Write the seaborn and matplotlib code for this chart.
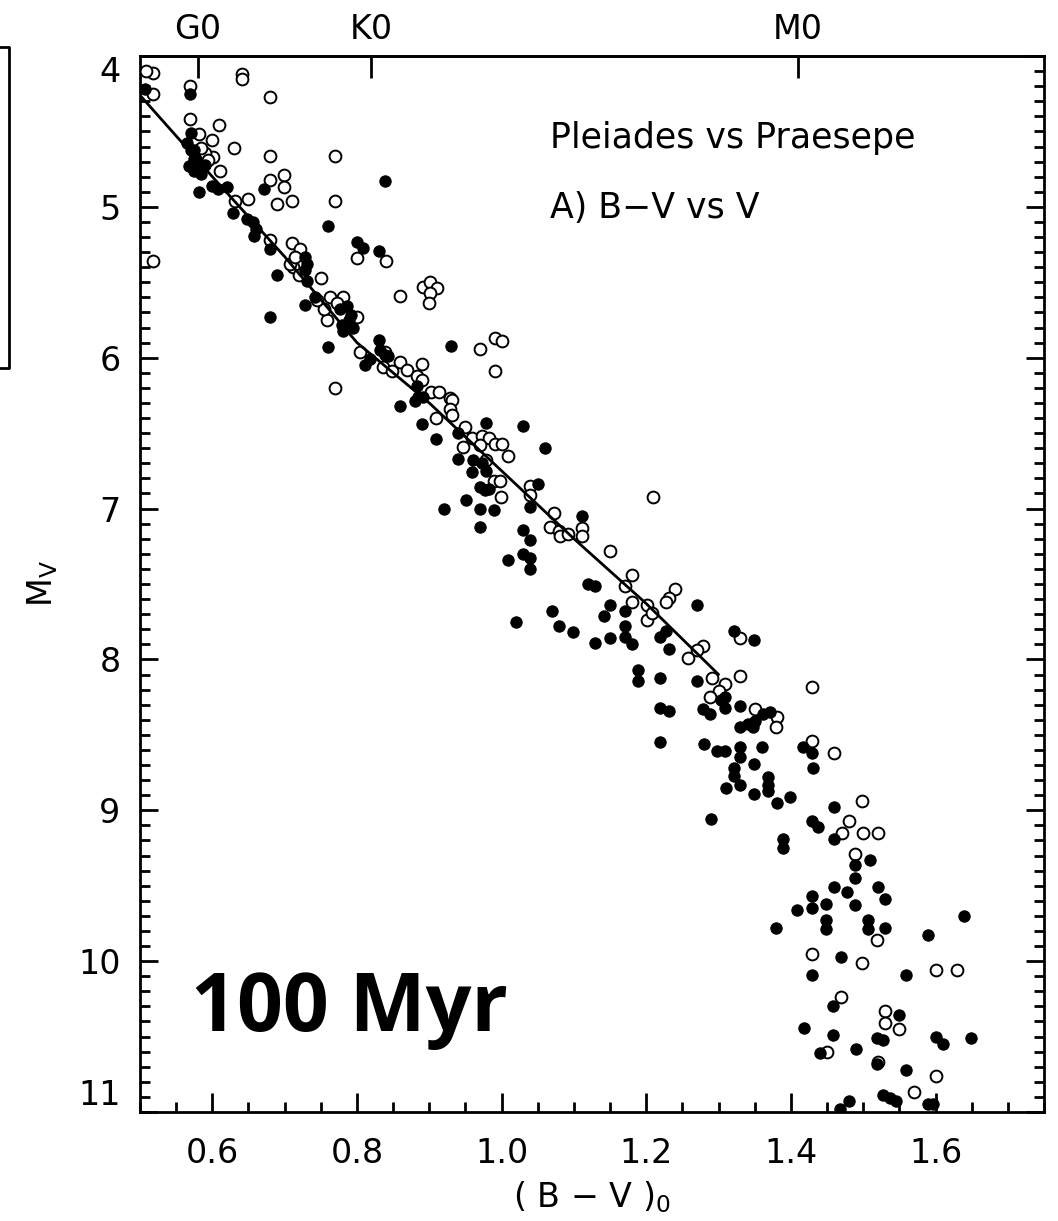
import matplotlib
matplotlib.use("Agg")
import matplotlib.pyplot as plt
from matplotlib.ticker import MultipleLocator, FormatStrFormatter, NullLocator
from matplotlib.lines import Line2D
import pandas as pd
import seaborn as sns

# Pleiades members (open symbols): (B-V)0 and M_V
pleiades_bv = [
    0.518, 0.508, 0.518, 0.569, 0.641, 0.641, 0.680, 0.569, 0.609, 0.630,
    0.600, 0.582, 0.601, 0.590, 0.611, 0.680, 0.770, 0.680, 0.699, 0.699,
    0.689, 0.710, 0.770, 0.649, 0.631, 0.518, 0.680, 0.710, 0.721, 0.800,
    0.840, 0.750, 0.712, 0.860, 0.892, 0.901, 0.910, 0.901, 0.900, 0.770,
    0.970, 0.991, 1.000, 0.991, 0.890, 0.758, 0.800, 0.763, 0.781, 0.772,
    0.860, 0.869, 0.883, 0.890, 0.903, 0.913, 0.929, 0.839, 0.804, 0.836,
    0.848, 0.931, 0.929, 0.931, 0.909, 0.950, 0.959, 0.973, 0.982, 0.991,
    1.000, 1.009, 0.947, 0.970, 0.979, 0.989, 0.998, 0.999, 1.039, 1.039,
    1.072, 1.067, 1.079, 1.081, 1.092, 1.111, 1.111, 1.150, 1.210, 1.180,
    1.171, 1.180, 1.201, 1.201, 1.240, 1.231, 1.228, 1.279, 1.270, 1.258,
    1.291, 1.330, 1.330, 1.309, 1.300, 1.288, 1.208, 1.429, 1.351, 1.381,
    1.380, 1.429, 1.459, 1.499, 1.480, 1.470, 1.500, 1.520, 1.489, 1.519,
    1.429, 1.499, 1.600, 1.630, 1.469, 1.530, 1.530, 1.549, 1.450, 1.520,
    1.600, 1.570, 0.585, 0.594, 0.707, 0.715, 0.720, 0.755, 0.745,
]
pleiades_mv = [
    4.11, 4.10, 4.25, 4.20, 4.12, 4.15, 4.27, 4.42, 4.46, 4.61,
    4.56, 4.52, 4.67, 4.64, 4.76, 4.66, 4.66, 4.82, 4.79, 4.87,
    4.98, 4.96, 4.96, 4.95, 4.96, 5.36, 5.22, 5.24, 5.28, 5.34,
    5.36, 5.47, 5.40, 5.59, 5.53, 5.50, 5.54, 5.57, 5.64, 6.20,
    5.94, 5.87, 5.89, 6.09, 6.04, 5.75, 5.73, 5.60, 5.60, 5.64,
    6.03, 6.08, 6.12, 6.15, 6.23, 6.23, 6.27, 5.96, 5.96, 6.06,
    6.09, 6.28, 6.34, 6.38, 6.40, 6.46, 6.53, 6.52, 6.53, 6.57,
    6.57, 6.65, 6.59, 6.58, 6.68, 6.82, 6.82, 6.92, 6.85, 6.91,
    7.03, 7.12, 7.15, 7.18, 7.17, 7.13, 7.18, 7.28, 6.92, 7.44,
    7.51, 7.62, 7.64, 7.74, 7.53, 7.59, 7.62, 7.91, 7.94, 7.99,
    8.12, 8.11, 7.86, 8.16, 8.21, 8.25, 7.69, 8.18, 8.33, 8.38,
    8.45, 8.54, 8.62, 8.94, 9.07, 9.15, 9.15, 9.15, 9.29, 9.86,
    9.95, 10.01, 10.06, 10.06, 10.24, 10.33, 10.41, 10.45, 10.60, 10.67,
    10.76, 10.87, 4.61, 4.69, 5.38, 5.33, 5.45, 5.68, 5.62,
]

# Praesepe members (filled symbols): (B-V)0 and M_V
praesepe_bv = [
    0.569, 0.507, 0.571, 0.570, 0.575, 0.568, 0.580, 0.585, 0.575, 0.581,
    0.599, 0.608, 0.620, 0.629, 0.648, 0.656, 0.660, 0.658, 0.671, 0.760,
    0.839, 0.800, 0.809, 0.830, 0.680, 0.689, 0.728, 0.731, 0.728, 0.731,
    0.680, 0.728, 0.742, 0.777, 0.786, 0.792, 0.780, 0.795, 0.789, 0.781,
    0.760, 0.830, 0.811, 0.818, 0.832, 0.839, 0.843, 0.930, 0.883, 0.891,
    0.860, 0.880, 0.885, 0.890, 0.909, 0.940, 0.979, 1.030, 1.060, 0.940,
    0.961, 0.959, 0.979, 0.973, 0.970, 0.977, 0.982, 0.951, 0.920, 0.970,
    0.990, 0.970, 1.051, 1.039, 1.030, 1.039, 1.030, 1.039, 1.039, 1.009,
    1.111, 1.120, 1.129, 1.150, 1.141, 1.171, 1.171, 1.171, 1.180, 1.150,
    1.129, 1.099, 1.080, 1.069, 1.020, 1.219, 1.228, 1.231, 1.270, 1.189,
    1.189, 1.219, 1.270, 1.321, 1.309, 1.349, 1.219, 1.231, 1.219, 1.279,
    1.288, 1.304, 1.309, 1.330, 1.280, 1.298, 1.309, 1.330, 1.330, 1.360,
    1.330, 1.341, 1.351, 1.362, 1.371, 1.348, 1.349, 1.321, 1.321, 1.330,
    1.310, 1.349, 1.369, 1.369, 1.369, 1.381, 1.399, 1.290, 1.417, 1.429,
    1.430, 1.459, 1.429, 1.438, 1.459, 1.389, 1.389, 1.489, 1.510, 1.489,
    1.459, 1.478, 1.520, 1.429, 1.489, 1.530, 1.429, 1.408, 1.449, 1.449,
    1.449, 1.380, 1.507, 1.507, 1.530, 1.589, 1.639, 1.469, 1.429, 1.559,
    1.458, 1.550, 1.418, 1.458, 1.519, 1.528, 1.600, 1.610, 1.649, 1.440,
    1.490, 1.519, 1.559, 1.480, 1.528, 1.537, 1.546, 1.589, 1.596, 1.468,
    0.565, 0.578, 0.590, 0.574,
]
praesepe_mv = [
    4.25, 4.22, 4.51, 4.62, 4.68, 4.73, 4.75, 4.78, 4.76, 4.90,
    4.86, 4.88, 4.87, 5.04, 5.08, 5.10, 5.15, 5.19, 4.88, 5.13,
    4.83, 5.23, 5.27, 5.29, 5.28, 5.45, 5.33, 5.38, 5.42, 5.49,
    5.73, 5.65, 5.60, 5.68, 5.66, 5.72, 5.78, 5.80, 5.75, 5.82,
    5.93, 5.88, 6.05, 6.01, 5.95, 5.98, 5.99, 5.92, 6.19, 6.26,
    6.32, 6.29, 6.26, 6.44, 6.54, 6.50, 6.43, 6.45, 6.60, 6.67,
    6.68, 6.76, 6.75, 6.70, 6.86, 6.88, 6.87, 6.94, 7.00, 7.00,
    7.01, 7.12, 6.84, 6.99, 7.14, 7.21, 7.30, 7.33, 7.40, 7.34,
    7.05, 7.50, 7.51, 7.64, 7.71, 7.68, 7.78, 7.85, 7.90, 7.86,
    7.89, 7.82, 7.78, 7.68, 7.75, 7.85, 7.81, 7.93, 7.64, 8.07,
    8.14, 8.12, 8.14, 7.81, 8.25, 7.87, 8.32, 8.34, 8.55, 8.33,
    8.36, 8.27, 8.32, 8.31, 8.56, 8.61, 8.61, 8.58, 8.65, 8.58,
    8.45, 8.43, 8.41, 8.36, 8.35, 8.45, 8.69, 8.72, 8.77, 8.83,
    8.85, 8.89, 8.78, 8.83, 8.87, 8.95, 8.91, 9.06, 8.58, 8.62,
    8.72, 8.98, 9.07, 9.11, 9.19, 9.19, 9.25, 9.36, 9.33, 9.45,
    9.51, 9.54, 9.51, 9.57, 9.63, 9.59, 9.65, 9.66, 9.62, 9.73,
    9.79, 9.78, 9.73, 9.79, 9.78, 9.83, 9.70, 9.97, 10.09, 10.09,
    10.30, 10.36, 10.44, 10.49, 10.51, 10.52, 10.50, 10.55, 10.51, 10.61,
    10.58, 10.68, 10.72, 10.93, 10.89, 10.91, 10.93, 10.95, 10.95, 10.98,
    4.58, 4.69, 4.72, 4.62,
]

# Reference main sequence drawn through the Praesepe locus
sequence_bv = [0.50, 0.60, 0.70, 0.80, 0.90, 1.00, 1.10, 1.20, 1.30]
sequence_mv = [4.26, 4.80, 5.33, 5.90, 6.30, 6.75, 7.20, 7.63, 8.10]

# Spectral types marked on the upper axis
spectral_bv = [0.58, 0.82, 1.41]
spectral_labels = ["G0", "K0", "M0"]

sns.set_theme(style="white")
plt.rcParams["font.family"] = ["DejaVu Sans"]
plt.rcParams["axes.linewidth"] = 2.0
plt.rcParams["text.color"] = "black"
plt.rcParams["xtick.labelcolor"] = "black"
plt.rcParams["ytick.labelcolor"] = "black"

W, H = 1058, 1221
fig = plt.figure(figsize=(W / 100, H / 100), dpi=100)
left, right, top, bottom = 140, 1044, 56, 1112
ax = fig.add_axes([left / W, 1 - bottom / H, (right - left) / W, (bottom - top) / H])
ax.set_facecolor("white")

pleiades = pd.DataFrame({"bv": pleiades_bv, "mv": pleiades_mv})
praesepe = pd.DataFrame({"bv": praesepe_bv, "mv": praesepe_mv})
sequence = pd.DataFrame({"bv": sequence_bv, "mv": sequence_mv})

sns.scatterplot(data=pleiades, x="bv", y="mv", ax=ax, marker="o", s=72,
                facecolor="white", edgecolor="black", linewidth=1.4, zorder=3)
sns.scatterplot(data=praesepe, x="bv", y="mv", ax=ax, marker="o", s=66,
                color="black", edgecolor="black", linewidth=0.8, zorder=4)
sns.lineplot(data=sequence, x="bv", y="mv", ax=ax, color="black",
             linewidth=2.0, sort=False, zorder=5)

ax.set_xlim(0.5, 1.75)
ax.set_ylim(11, 4)
for side in ax.spines.values():
    side.set_visible(True)
    side.set_color("black")
    side.set_linewidth(2.0)

ax.xaxis.set_major_locator(MultipleLocator(0.2))
ax.xaxis.set_minor_locator(MultipleLocator(0.05))
ax.xaxis.set_major_formatter(FormatStrFormatter("%.1f"))
ax.yaxis.set_major_locator(MultipleLocator(1))
ax.yaxis.set_minor_locator(MultipleLocator(0.1))
ax.yaxis.set_major_formatter(FormatStrFormatter("%d"))

ax.tick_params(axis="both", which="both", direction="in", color="black",
               width=2.0, labelsize=24, labelcolor="black")
ax.tick_params(axis="x", which="both", bottom=True, top=False)
ax.tick_params(axis="y", which="both", left=True, right=True)
ax.tick_params(axis="x", which="major", length=14, pad=18)
ax.tick_params(axis="x", which="minor", length=7)
ax.tick_params(axis="y", which="major", length=13, pad=14)
ax.tick_params(axis="y", which="minor", length=7)

fig.canvas.draw()
for lab in ax.get_yticklabels():
    if lab.get_text() == "4":
        lab.set_verticalalignment("top")
    if lab.get_text() == "11":
        lab.set_verticalalignment("bottom")

top_axis = ax.secondary_xaxis("top")
top_axis.set_xticks(spectral_bv, labels=spectral_labels)
top_axis.xaxis.set_minor_locator(NullLocator())
top_axis.tick_params(axis="x", direction="in", length=16, width=2.0,
                     labelsize=24, pad=7, color="black", labelcolor="black")
top_axis.spines["top"].set_linewidth(2.0)

ax.set_xlabel(r"( B $-$ V )$_\mathregular{0}$", fontsize=24, color="black")
ax.set_ylabel(r"M$_\mathregular{V}$", fontsize=24, color="black")
ax.xaxis.set_label_coords(0.5, -0.064)
ax.yaxis.set_label_coords(-0.088, 0.5)

ax.text(0.453, 0.913, "Pleiades vs Praesepe", transform=ax.transAxes,
        fontsize=25, ha="left", va="baseline", color="black")
ax.text(0.453, 0.847, "A) B\u2212V vs V", transform=ax.transAxes,
        fontsize=25, ha="left", va="baseline", color="black")
ax.text(0.056, 0.0767, "100 Myr", transform=ax.transAxes, fontsize=58,
        fontweight="bold", family=["Open Sans", "DejaVu Sans"],
        ha="left", va="baseline", color="black")

# Edge of the neighbouring panel at the left margin
fig.add_artist(Line2D([0, 8.5 / W, 8.5 / W, 0],
                      [1 - 47 / H, 1 - 47 / H, 1 - 368 / H, 1 - 368 / H],
                      transform=fig.transFigure, color="black", linewidth=2.0))

fig.savefig("out.png", dpi=100, facecolor="white")
